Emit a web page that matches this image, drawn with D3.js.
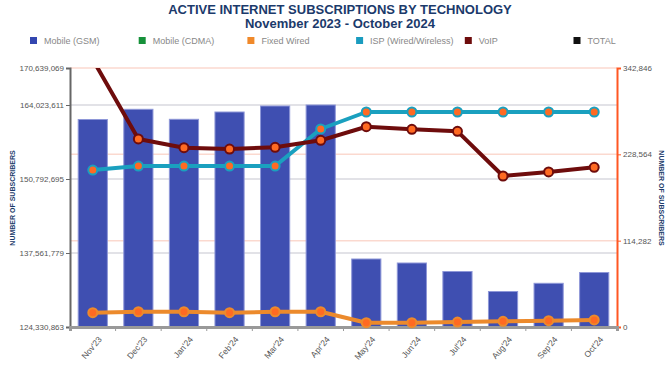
<!DOCTYPE html>
<html><head><meta charset="utf-8">
<script src="https://cdn.jsdelivr.net/npm/d3@7"></script>
<style>body{margin:0;background:#fff;font-family:"Liberation Sans",Arial,sans-serif;}</style>
</head><body><svg id="c" width="672" height="365"></svg>
<script>
const months = ["Nov'23","Dec'23","Jan'24","Feb'24","Mar'24","Apr'24","May'24","Jun'24","Jul'24","Aug'24","Sep'24","Oct'24"];
const mobileGSM = [161431000,163255000,161467000,162772000,163845000,164023611,136489000,135774000,134254000,130678000,132144000,134075000];
const fixedWired = [18900,20200,20200,18900,20200,20200,5700,5700,6600,7500,8300,9300];
const ispWired = [207800,213100,213100,213100,213100,262100,284600,284600,284600,284600,284600,284600];
const voip = [354000,248900,237300,235600,237900,247100,265100,261700,259000,199900,205200,211400];
const leftTicks = [124330863,137561779,150792695,164023611,170639069];
const rightTicks = [0,114282,228564,342846];
const legendItems = [["Mobile (GSM)","#3346b0"],["Mobile (CDMA)","#16913a"],["Fixed Wired","#f0892a"],["ISP (Wired/Wireless)","#1a9cbf"],["VoIP","#6e0c0c"],["TOTAL","#111"]];

const svg = d3.select("#c");
const L=70,R=617,T=68,B=327;
const x = d3.scaleBand().domain(months).range([L,R]).paddingInner(0.36).paddingOuter(0.18);
const yL = d3.scaleLinear().domain([124330863,170639069]).range([B,T]);
const yR = d3.scaleLinear().domain([0,342846]).range([B,T]);

svg.append("text").attr("x",340).attr("y",14).attr("text-anchor","middle").attr("font-weight","bold").attr("font-size",13).attr("fill","#1b3a6b").text("ACTIVE INTERNET SUBSCRIPTIONS BY TECHNOLOGY");
svg.append("text").attr("x",340).attr("y",28).attr("text-anchor","middle").attr("font-weight","bold").attr("font-size",13).attr("fill","#1b3a6b").text("November 2023 - October 2024");

const lg = svg.append("g");
legendItems.forEach((d,i)=>{
  const gx = 30 + i*108.7;
  lg.append("rect").attr("x",gx).attr("y",37).attr("width",7).attr("height",7).attr("fill",d[1]);
  lg.append("text").attr("x",gx+14).attr("y",44).attr("font-size",9).attr("fill","#888").text(d[0]);
});

// gridlines
svg.append("g").selectAll("line").data(rightTicks.slice(1)).join("line")
  .attr("x1",L).attr("x2",R).attr("y1",d=>yR(d)).attr("y2",d=>yR(d)).attr("stroke","#fbd9cf").attr("stroke-width",1.5);
svg.append("g").selectAll("line").data(leftTicks.slice(1,4)).join("line")
  .attr("x1",L).attr("x2",R).attr("y1",d=>yL(d)).attr("y2",d=>yL(d)).attr("stroke","#d9d9df").attr("stroke-width",1.5);

// bars
svg.append("g").selectAll("rect").data(mobileGSM).join("rect")
  .attr("x",(d,i)=>x(months[i])).attr("width",x.bandwidth())
  .attr("y",d=>yL(d)).attr("height",d=>B-yL(d))
  .attr("fill","#3f4fb1").attr("stroke","#8e97d8").attr("stroke-width",1);

// axes
const axL = d3.axisLeft(yL).tickValues(leftTicks).tickFormat(d3.format(",")).tickSize(4).tickPadding(2);
const gL = svg.append("g").attr("transform",`translate(${L},0)`).call(axL);
gL.select(".domain").attr("stroke","#666").attr("stroke-width",2);
gL.selectAll(".tick line").attr("stroke","#666");
gL.selectAll("text").attr("fill","#555").attr("font-size",8).attr("font-family","Liberation Sans, Arial");

const axR = d3.axisRight(yR).tickValues(rightTicks).tickFormat(d3.format(",")).tickSize(4).tickPadding(2);
const gR = svg.append("g").attr("transform",`translate(${R},0)`).call(axR);
gR.select(".domain").attr("stroke","#ff5722").attr("stroke-width",2);
gR.selectAll(".tick line").attr("stroke","#ff5722");
gR.selectAll("text").attr("fill","#555").attr("font-size",8).attr("font-family","Liberation Sans, Arial");

const axB = d3.axisBottom(x).tickSize(4);
const gB = svg.append("g").attr("transform",`translate(0,${B})`).call(axB);
gB.select(".domain").attr("stroke","#999").attr("stroke-width",3);
gB.selectAll(".tick line").attr("stroke","#999").attr("transform",`translate(${-x.step()/2},0)`);
gB.selectAll("text").attr("fill","#555").attr("font-size",8.5).attr("font-family","Liberation Sans, Arial")
  .attr("text-anchor","end").attr("transform","translate(2,4) rotate(-50)").attr("dy","0.5em").attr("dx","-0.2em");

svg.append("text").attr("transform","translate(15,198) rotate(-90)").attr("text-anchor","middle").attr("font-size",7).attr("font-weight","bold").attr("fill","#1b3a6b").text("NUMBER OF SUBSCRIBERS");
svg.append("text").attr("transform","translate(659,198) rotate(90)").attr("text-anchor","middle").attr("font-size",7).attr("font-weight","bold").attr("fill","#1b3a6b").text("NUMBER OF SUBSCRIBERS");

svg.append("clipPath").attr("id","clip").append("rect").attr("x",L).attr("y",T).attr("width",R-L).attr("height",B-T+10);
const cx = i => x(months[i]) + x.bandwidth()/2;
const line = d3.line().x((d,i)=>cx(i)).y(d=>yR(d));
const series = [[fixedWired,"#ec8a2c"],[ispWired,"#1aa0bf"],[voip,"#6e0c0c"]];
const lines = svg.append("g").attr("clip-path","url(#clip)");
series.forEach(([data,col])=>{
  lines.append("path").datum(data).attr("d",line).attr("fill","none").attr("stroke",col).attr("stroke-width",4).attr("stroke-linejoin","round");
  lines.append("g").selectAll("circle").data(data).join("circle")
    .attr("cx",(d,i)=>cx(i)).attr("cy",d=>yR(d)).attr("r",4.5)
    .attr("fill","#ff6a22").attr("stroke",col).attr("stroke-width",2);
});
</script></body></html>
